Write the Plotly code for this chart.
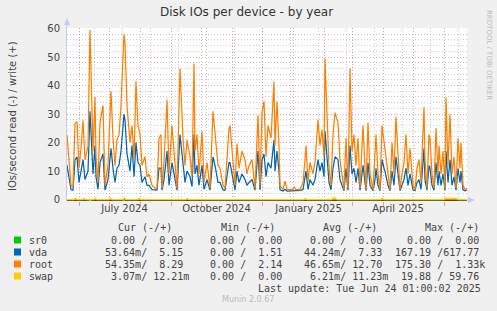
import plotly.graph_objects as go
import pandas as pd

# ---------------- data ----------------
start = pd.Timestamp("2024-05-20")
end = pd.Timestamp("2025-06-24")

# day offsets (days after start) and daily-average write IOs/s
day = [0, 2, 4, 6, 8, 10, 12, 14, 16, 18, 21, 23, 26, 28, 29, 31, 33, 36, 38, 41,
       44, 46, 48, 50, 52, 54, 57, 58, 60, 63, 65, 67, 69, 71, 73, 75, 78, 80, 82, 85,
       88, 90, 92, 94, 95, 97, 100, 102, 105, 107, 110, 113, 116, 118, 120, 123, 125, 127, 128, 130,
       132, 135, 137, 140, 143, 146, 148, 151, 153, 156, 158, 162, 163, 165, 168, 170, 172, 175, 178, 180,
       182, 185, 188, 191, 193, 195, 197, 199, 201, 204, 207, 208, 210, 212, 213, 216, 218, 220, 222, 224,
       226, 227, 229, 231, 233, 234, 236, 238, 239, 241, 243, 246, 248, 251, 253, 255, 257, 258, 260, 262,
       264, 266, 268, 271, 273, 275, 277, 279, 281, 283, 285, 287, 289, 291, 293, 296, 298, 299, 301, 303,
       306, 308, 309, 311, 313, 315, 317, 318, 321, 323, 325, 327, 329, 331, 333, 335, 337, 339, 341, 343,
       346, 348, 350, 352, 354, 357, 358, 360, 362, 363, 365, 367, 369, 371, 372, 374, 376, 378, 379, 381,
       383, 385, 387, 389, 391, 393, 394, 396, 398, 400]

root_write = [22.8, 13, 5, 4.5, 26.7, 27.3, 11, 18, 27.7, 14, 18.6, 59.6, 17, 36, 15, 6, 27, 33, 5, 12,
              38, 21.5, 12, 21, 22.5, 33, 57.9, 55, 33, 20, 26, 14, 41.5, 26, 23, 12, 15, 8, 9, 5,
              4, 4, 21.5, 22.8, 4, 13.4, 35, 9, 26, 17, 4, 46, 21.5, 12, 21, 15, 8, 47.7, 17, 22.8,
              9, 24, 6, 13, 4, 31, 24, 12, 11, 5, 4, 25, 26, 17, 5, 19.7, 11, 17, 14, 9,
              12, 14, 4, 29.6, 5, 30.5, 34.5, 15, 26, 21.5, 41.4, 19, 34.5, 19, 5, 3.5, 6.5, 3.5, 3.5, 3.5,
              3.5, 4.5, 3.5, 3.5, 3.5, 4.5, 6, 14, 19, 6, 13, 9, 13, 28, 19, 24.6, 15, 49.5, 26, 11,
              5, 22.8, 30.5, 27, 14, 9, 3.5, 21.5, 4, 46, 17, 22.8, 12, 21.5, 4, 26, 12, 3.5, 27, 9,
              3.5, 14, 22.8, 9, 3.5, 26, 20, 18, 9, 3.5, 20, 9, 29, 17, 3.5, 9, 13, 22.8, 9, 18,
              5, 3.5, 11, 14, 6, 32.4, 14, 4, 22.8, 21.5, 9, 4, 25, 9, 19, 9, 17, 4, 35.8, 12,
              29.8, 9, 15, 4, 21.5, 11, 20, 5, 3.5, 4]

vda_write = [12, 7, 3.5, 3.3, 14, 15, 6, 10, 14, 7, 10, 31, 9, 19, 8, 3.6, 13, 16, 3.3, 7,
             18, 11, 6, 11, 12, 17, 30, 28, 16, 10, 19, 8, 20, 13, 12, 6, 8, 5, 5, 3.5,
             3.3, 3.3, 11, 11, 3.3, 7, 17, 5, 13, 9, 3.3, 22.8, 11, 6, 10, 8, 4.5, 22.8, 9, 12,
             5, 12, 3.6, 7, 3.3, 15, 12, 6, 6, 3.4, 3.3, 13, 13, 9, 3.4, 10, 6, 9, 7, 5,
             6, 7, 3.3, 17, 3.4, 14, 16, 8, 13, 11, 21, 10, 17, 10, 3.4, 3.0, 3.6, 3.0, 3.0, 3.0,
             3.0, 3.2, 3.0, 3.0, 3.0, 3.2, 3.6, 7, 10, 3.6, 7, 5, 7, 14, 10, 13, 8, 24, 13, 6,
             3.4, 11, 15, 14, 7, 5, 3.1, 11, 3.3, 19, 9, 11, 6, 11, 3.3, 12, 6, 3.1, 13, 5,
             3.1, 7, 11, 5, 3.1, 14, 11, 10, 5, 3.1, 10, 5, 15, 9, 3.1, 5, 7, 11, 5, 9,
             3.4, 3.1, 6, 7, 3.6, 18, 7, 3.3, 12, 11, 5, 3.3, 13, 5, 10, 5, 9, 3.3, 17, 6,
             14, 5, 8, 3.3, 11, 6, 10, 3.4, 3.1, 3.3]

swap_day = [0, 7, 8, 10, 16, 17, 19, 27, 28, 30, 42, 43, 45, 56, 57, 59, 71, 72, 74, 119,
            120, 122, 237, 238, 240, 265, 266, 267, 268, 270, 314, 315, 317, 377, 378, 380, 383, 386, 389, 391, 400]
swap_write = [0, 0, 0.5, 0, 0, 0.4, 0, 0, 0.5, 0, 0, 0.5, 0, 0, 0.6, 0, 0, 0.5, 0, 0,
              0.4, 0, 0, 0.4, 0, 0, 0.6, 0.4, 0.6, 0, 0, 0.5, 0, 0, 0.5, 0.4, 0.5, 0.4, 0.5, 0, 0]

root_read_day = [0, 22, 23, 24, 56, 57, 58, 400]
root_read = [-0.05, -0.05, -0.6, -0.05, -0.05, -0.5, -0.05, -0.05]
vda_read_day = [0, 400]
vda_read = [-0.04, -0.04]
sr0_day = [0, 400]
sr0_vals = [0, 0]

label_pos = ["2024-07-16 12:00", "2024-10-16 12:00", "2025-01-16 12:00", "2025-04-16"]
label_text = ["July 2024", "October 2024", "January 2025", "April 2025"]

legend_names = ["sr0", "vda", "root", "swap"]
legend_colors = ["#00CC00", "#0066B3", "#FF8000", "#FFCC00"]
col_headers = ["Cur (-/+)", "Min (-/+)", "Avg (-/+)", "Max (-/+)"]
cur_vals = ["  0.00 /  0.00 ", " 53.64m/  5.15 ", " 54.35m/  8.29 ", "  3.07m/ 12.21m"]
min_vals = ["  0.00 /  0.00 ", "  0.00 /  1.51 ", "  0.00 /  2.14 ", "  0.00 /  0.00 "]
avg_vals = ["  0.00 /  0.00 ", " 44.24m/  7.33 ", " 46.65m/ 12.70 ", "  6.21m/ 11.23m"]
max_vals = ["  0.00 /  0.00 ", "167.19 /617.77 ", "175.30 /  1.33k", " 19.88 / 59.76 "]
last_update = "Last update: Tue Jun 24 01:00:02 2025"

# ---------------- layout helpers ----------------
W, H = 497, 311
PL, PR, PT, PB = 67, 467, 28, 201


def px(x):
    return (x - PL) / (PR - PL)


def py(y):
    return (PB - y) / (PB - PT)


def to_dates(days):
    return [start + pd.Timedelta(days=d) for d in days]


def nb(s):
    return s.replace(" ", "\u00a0")


SANS = "DejaVu Sans"
MONO = "DejaVu Sans Mono"
TXT = "#444444"
AXIS = "#C5CBEF"
MGRID = "rgba(225,110,110,0.65)"
GRID = "rgba(170,170,170,0.6)"

fig = go.Figure()

series = [
    (sr0_day, sr0_vals, legend_colors[0]),
    (vda_read_day, vda_read, legend_colors[1]),
    (day, vda_write, legend_colors[1]),
    (root_read_day, root_read, legend_colors[2]),
    (day, root_write, legend_colors[2]),
    (swap_day, swap_write, legend_colors[3]),
]
for d, v, c in series:
    fig.add_trace(go.Scatter(x=to_dates(d), y=v, mode="lines",
                             line=dict(color=c, width=1.25), showlegend=False,
                             hoverinfo="skip"))

# dummy trace for the label axis
fig.add_trace(go.Scatter(x=[], y=[], xaxis="x2", showlegend=False, hoverinfo="skip"))

month_starts = pd.date_range("2024-06-01", "2025-06-01", freq="MS")
four_week = pd.date_range("2024-06-16", end, freq="28D")

fig.update_layout(
    width=W, height=H,
    margin=dict(l=PL, r=W - PR, t=PT, b=H - PB),
    paper_bgcolor="#F0F0F0",
    plot_bgcolor="#FFFFFF",
    showlegend=False,
    hovermode=False,
    xaxis=dict(
        type="date", range=[start, end],
        tickmode="array", tickvals=month_starts, ticktext=[""] * len(month_starts),
        showticklabels=False,
        ticks="outside", ticklen=4, tickcolor=MGRID, tickwidth=1,
        showgrid=True, gridcolor=MGRID, griddash="1px,2px", gridwidth=1,
        minor=dict(tickmode="array", tickvals=four_week, showgrid=True,
                   gridcolor=GRID, griddash="1px,2px", ticks=""),
        showline=False, zeroline=False, fixedrange=True,
    ),
    xaxis2=dict(
        type="date", range=[start, end], overlaying="x", anchor="y", side="bottom",
        tickmode="array", tickvals=label_pos, ticktext=label_text,
        ticks="", showgrid=False, showline=False, zeroline=False,
        tickfont=dict(family=SANS, size=10, color=TXT),
    ),
    yaxis=dict(
        range=[-0.5, 60.2], tick0=0, dtick=10,
        ticks="", tickfont=dict(family=SANS, size=10, color=TXT),
        showgrid=True, gridcolor=MGRID, griddash="1px,2px", gridwidth=1,
        minor=dict(dtick=2, showgrid=True, gridcolor=GRID, griddash="1px,2px"),
        zeroline=True, zerolinecolor="#000000", zerolinewidth=2,
        showline=True, linecolor=AXIS, linewidth=1, fixedrange=True,
        ticklabelstandoff=4,
    ),
)

ann = []
ann.append(dict(text="Disk IOs per device - by year", x=px(246), y=py(12),
                font=dict(family=SANS, size=12, color="#333333")))
ann.append(dict(text="IOs/second read (-) / write (+)", x=px(12), y=py(116),
                textangle=-90, font=dict(family=SANS, size=10, color=TXT)))
ann.append(dict(text="RRDTOOL / TOBI OETIKER", x=px(489), y=py(55),
                textangle=90, font=dict(family=SANS, size=7, color="#BBBBBB")))

header_x = [116, 219, 321, 423]
for hx, htxt in zip(header_x, col_headers):
    ann.append(dict(text=nb(htxt), x=px(hx), y=py(227), xanchor="left",
                    font=dict(family=MONO, size=10, color=TXT)))

row_y = [240, 252, 264, 276]
col_x = [96.5, 196, 295.5, 393]
for i, name in enumerate(legend_names):
    ann.append(dict(text=name, x=px(27), y=py(row_y[i]), xanchor="left",
                    font=dict(family=MONO, size=10, color=TXT)))
    for cx, vals in zip(col_x, [cur_vals, min_vals, avg_vals, max_vals]):
        ann.append(dict(text=nb(vals[i]), x=px(cx), y=py(row_y[i]), xanchor="left",
                        font=dict(family=MONO, size=10, color=TXT)))

ann.append(dict(text=nb(last_update), x=px(483), y=py(288), xanchor="right",
                font=dict(family=MONO, size=10, color=TXT)))
ann.append(dict(text="Munin 2.0.67", x=px(248), y=py(299),
                font=dict(family=SANS, size=8, color="#BBBBBB")))

for a in ann:
    a.setdefault("xanchor", "center")
    a.update(xref="paper", yref="paper", yanchor="middle", showarrow=False)
fig.update_layout(annotations=ann)

shapes = []
for i, c in enumerate(legend_colors):
    shapes.append(dict(type="rect", xref="paper", yref="paper",
                       x0=px(14), x1=px(21), y0=py(row_y[i] + 3.5), y1=py(row_y[i] - 3.5),
                       fillcolor=c, line=dict(width=0)))
# axis extensions and arrows
shapes.append(dict(type="line", xref="paper", yref="paper", x0=px(67), x1=px(67),
                   y0=py(28), y1=py(23), line=dict(color=AXIS, width=1)))
shapes.append(dict(type="path", xref="paper", yref="paper",
                   path=f"M {px(67)},{py(18)} L {px(64)},{py(25)} L {px(70)},{py(25)} Z",
                   fillcolor=AXIS, line=dict(width=0)))
shapes.append(dict(type="line", xref="paper", yref="paper", x0=px(467), x1=px(469),
                   y0=py(200), y1=py(200), line=dict(color=AXIS, width=1)))
shapes.append(dict(type="path", xref="paper", yref="paper",
                   path=f"M {px(475)},{py(200)} L {px(468)},{py(197)} L {px(468)},{py(203)} Z",
                   fillcolor=AXIS, line=dict(width=0)))
fig.update_layout(shapes=shapes)

fig.write_html("out.html", config={"displayModeBar": False})
